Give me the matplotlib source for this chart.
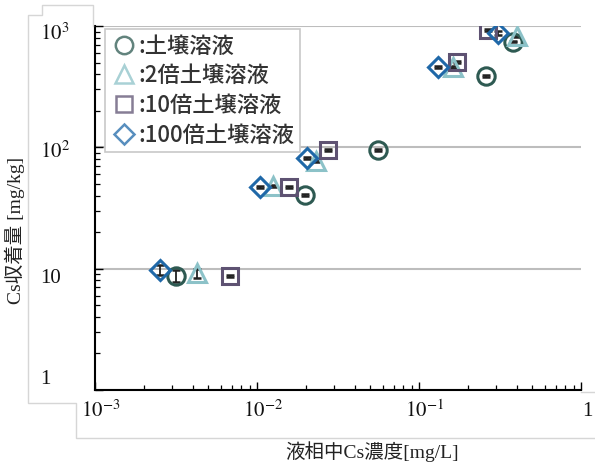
import matplotlib
matplotlib.use("Agg")
import matplotlib.pyplot as plt
from matplotlib.lines import Line2D
from matplotlib import transforms

plt.rcParams["mathtext.fontset"] = "stix"

# Cs concentration in liquid phase [mg/L] and sorbed Cs [mg/kg]
x_soil = [0.00316, 0.0198, 0.0558, 0.26, 0.38]
y_soil = [8.7, 40.5, 95, 388, 745]
e_soil = [1.0, 0.8, 1.5, 6, 12]

x_2x = [0.00427, 0.0126, 0.0231, 0.162, 0.403]
y_2x = [9.2, 48, 77, 460, 829]
e_2x = [0.8, 1.0, 1.2, 8, 14]

x_10x = [0.0068, 0.0158, 0.0274, 0.172, 0.267]
y_10x = [8.7, 47, 95, 506, 929]
e_10x = [0.15, 0.8, 1.5, 8, 15]

x_100x = [0.00252, 0.0104, 0.0204, 0.131, 0.308]
y_100x = [9.8, 47, 81.8, 460, 877]
e_100x = [0.9, 1.0, 1.5, 8, 30]

labels = [":土壌溶液", ":2倍土壌溶液", ":10倍土壌溶液", ":100倍土壌溶液"]
xtick_vals = [1e-3, 1e-2, 1e-1, 1]
xtick_text = [r"$10^{-3}$", r"$10^{-2}$", r"$10^{-1}$", "1"]
ytick_vals = [1000, 100, 10, 1]
ytick_text = [r"$10^{3}$", r"$10^{2}$", "10", "1"]

W, H = 595, 470
fig = plt.figure(figsize=(W / 100, H / 100), dpi=100)
ax = fig.add_axes([95 / W, 1 - 390 / H, (581 - 95) / W, (390 - 26) / H])
ax.set_xscale("log")
ax.set_yscale("log")
ax.set_xlim(1e-3, 1)
ax.set_ylim(1, 1000)

series = [
    (x_soil, y_soil, e_soil, "o", "#2E5A52", 12.5),
    (x_2x, y_2x, e_2x, "^", "#8CC2C8", 13.5),
    (x_10x, y_10x, e_10x, "s", "#5E5272", 12.0),
    (x_100x, y_100x, e_100x, "D", "#1F68A8", 10.5),
]
handles = []
for (xs, ys, es, mk, col, ms), lab in zip(series, labels):
    ax.errorbar(xs, ys, yerr=es, fmt="none", ecolor="#222222",
                elinewidth=1.3, capsize=3.2, capthick=1.8, zorder=3)
    ax.plot(xs, ys, linestyle="none", marker=mk, ms=ms, mfc="none",
            mec=col, mew=2.2, zorder=4)
    handles.append(Line2D([], [], linestyle="none", marker=mk, ms=ms,
                          mfc="none", mec=col, mew=1.8, alpha=0.75))

ax.grid(axis="y", which="major", color="#BDBDBD", lw=1.5)
ax.set_axisbelow(True)
for s in ("top", "right"):
    ax.spines[s].set_visible(False)
for s in ("left", "bottom"):
    ax.spines[s].set_linewidth(1.5)
ax.tick_params(which="both", direction="in", labelleft=False, labelbottom=False)
ax.tick_params(which="major", length=6, width=1.0)
ax.tick_params(which="minor", length=3.5, width=0.9)

leg = ax.legend(handles, labels, loc="upper left",
                bbox_to_anchor=(10 / 486, (390 - 29) / 364), borderaxespad=0,
                prop={"family": "Noto Sans CJK JP", "size": 16, "weight": "medium"},
                handlelength=1.2, handletextpad=0.05, labelspacing=0.3,
                borderpad=0.25, fancybox=False, framealpha=1)
leg.get_frame().set_edgecolor("#C8C8C8")
leg.get_frame().set_linewidth(1.2)
for t in leg.get_texts():
    t.set_color("#333333")

serif = ["Liberation Serif", "Noto Sans CJK JP"]

# tick label panels
def fig_line(pts):
    xs = [p[0] / W for p in pts]
    ys = [1 - p[1] / H for p in pts]
    fig.add_artist(Line2D(xs, ys, color="#D6D6D6", lw=1.0))

fig_line([(93, 26), (93, 5), (42, 5), (42, 15), (28, 15), (28, 403), (76, 403),
          (76, 438), (595, 438)])
fig_line([(581, 392), (595, 392)])

ytr = transforms.blended_transform_factory(fig.transFigure, ax.transData)
y_shift = [-8, -5, -10, 10]
for v, t, dy in zip(ytick_vals, ytick_text, y_shift):
    off = transforms.ScaledTranslation(0, dy / 100, fig.dpi_scale_trans)
    ax.text(40 / W, v, t, transform=ytr + off, ha="left", va="center",
            family=serif, fontsize=15, color="#111111")

xtr = transforms.blended_transform_factory(ax.transData, fig.transFigure)
for v, t in zip(xtick_vals, xtick_text):
    off = transforms.ScaledTranslation(6 / 100, 0, fig.dpi_scale_trans)
    ax.text(v, 1 - 411 / H, t, transform=xtr + off, ha="center", va="center",
            family=serif, fontsize=15, color="#111111")

fig.text(372 / W, 1 - 452 / H, "液相中Cs濃度[mg/L]", ha="center", va="center",
         family=serif, fontsize=14, color="#222222")
fig.text(15 / W, 1 - 230 / H, "Cs収着量 [mg/kg]", ha="center", va="center",
         rotation=90, family=serif, fontsize=14, color="#222222")

fig.savefig("out.png", dpi=100)
